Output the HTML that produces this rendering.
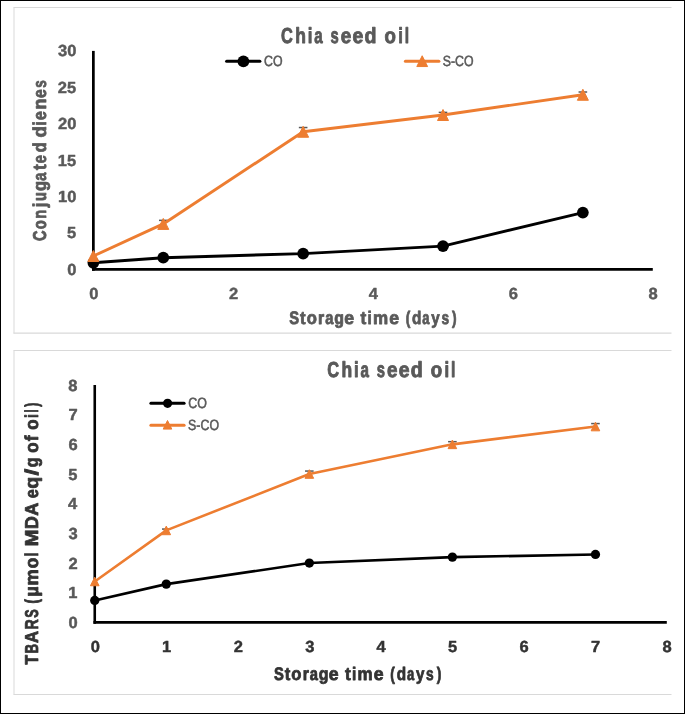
<!DOCTYPE html>
<html><head><meta charset="utf-8"><title>Chia seed oil charts</title>
<style>
html,body{margin:0;padding:0;background:#fff;}
svg{display:block;font-family:"Liberation Sans", sans-serif;will-change:transform;text-rendering:geometricPrecision;}
</style></head>
<body>
<svg width="685" height="714" viewBox="0 0 685 714">
<rect x="0.5" y="0.5" width="684" height="713" fill="#fff" stroke="#000" stroke-width="1"/>
<line x1="13.50" y1="7.50" x2="671.50" y2="7.50" stroke="#D9D9D9" stroke-width="1" stroke-linecap="butt"/>
<line x1="13.50" y1="333.10" x2="671.50" y2="333.10" stroke="#D9D9D9" stroke-width="1.2" stroke-linecap="butt"/>
<line x1="14.00" y1="7.50" x2="14.00" y2="333.50" stroke="#D9D9D9" stroke-width="1" stroke-linecap="butt"/>
<line x1="13.50" y1="350.50" x2="671.50" y2="350.50" stroke="#D9D9D9" stroke-width="1" stroke-linecap="butt"/>
<line x1="13.50" y1="694.50" x2="671.50" y2="694.50" stroke="#D9D9D9" stroke-width="1" stroke-linecap="butt"/>
<line x1="14.00" y1="350.50" x2="14.00" y2="694.50" stroke="#D9D9D9" stroke-width="1" stroke-linecap="butt"/>
<text y="43.00" font-size="21.7" font-weight="bold" fill="#595959" stroke="#595959" stroke-width="0.9" stroke-linejoin="round"><tspan x="281.02" textLength="11.84" lengthAdjust="spacingAndGlyphs">C</tspan><tspan x="295.19" textLength="10.68" lengthAdjust="spacingAndGlyphs">h</tspan><tspan x="307.63" textLength="4.66" lengthAdjust="spacingAndGlyphs">i</tspan><tspan x="314.22" textLength="8.42" lengthAdjust="spacingAndGlyphs">a</tspan> <tspan x="330.54" textLength="8.21" lengthAdjust="spacingAndGlyphs">s</tspan><tspan x="340.70" textLength="10.50" lengthAdjust="spacingAndGlyphs">e</tspan><tspan x="352.49" textLength="10.82" lengthAdjust="spacingAndGlyphs">e</tspan><tspan x="364.55" textLength="11.98" lengthAdjust="spacingAndGlyphs">d</tspan> <tspan x="384.61" textLength="11.38" lengthAdjust="spacingAndGlyphs">o</tspan><tspan x="398.33" textLength="4.66" lengthAdjust="spacingAndGlyphs">i</tspan><tspan x="404.68" textLength="4.35" lengthAdjust="spacingAndGlyphs">l</tspan></text>
<line x1="226.60" y1="61.30" x2="259.90" y2="61.30" stroke="#000" stroke-width="3" stroke-linecap="round"/>
<circle cx="243.40" cy="61.30" r="5.90" fill="#000"/>
<text transform="translate(263.97,65.70) scale(0.8342,1)" font-size="14.8" font-weight="normal" fill="#595959" stroke="#595959" stroke-width="0.55" stroke-linejoin="round">CO</text>
<line x1="405.40" y1="61.35" x2="438.90" y2="61.35" stroke="#ED7D31" stroke-width="3" stroke-linecap="round"/>
<path d="M422.20,55.75 L427.60,66.55 L416.80,66.55 Z" fill="#ED7D31" stroke="#ED7D31" stroke-width="1" stroke-linejoin="round"/>
<text transform="translate(442.81,65.80) scale(0.8319,1)" font-size="14.8" font-weight="normal" fill="#595959" stroke="#595959" stroke-width="0.55" stroke-linejoin="round">S-CO</text>
<text transform="translate(67.22,274.85) scale(1.0300,1)" font-size="16.0" font-weight="bold" fill="#595959" stroke="#595959" stroke-width="0.45" stroke-linejoin="round">0</text>
<text transform="translate(67.00,238.45) scale(1.0300,1)" font-size="16.0" font-weight="bold" fill="#595959" stroke="#595959" stroke-width="0.45" stroke-linejoin="round">5</text>
<text transform="translate(58.07,202.05) scale(1.0300,1)" font-size="16.0" font-weight="bold" fill="#595959" stroke="#595959" stroke-width="0.45" stroke-linejoin="round">10</text>
<text transform="translate(57.86,165.65) scale(1.0300,1)" font-size="16.0" font-weight="bold" fill="#595959" stroke="#595959" stroke-width="0.45" stroke-linejoin="round">15</text>
<text transform="translate(58.07,129.25) scale(1.0300,1)" font-size="16.0" font-weight="bold" fill="#595959" stroke="#595959" stroke-width="0.45" stroke-linejoin="round">20</text>
<text transform="translate(57.86,92.85) scale(1.0300,1)" font-size="16.0" font-weight="bold" fill="#595959" stroke="#595959" stroke-width="0.45" stroke-linejoin="round">25</text>
<text transform="translate(58.07,56.45) scale(1.0300,1)" font-size="16.0" font-weight="bold" fill="#595959" stroke="#595959" stroke-width="0.45" stroke-linejoin="round">30</text>
<text transform="translate(89.18,299.00) scale(1.0300,1)" font-size="16.0" font-weight="bold" fill="#595959" stroke="#595959" stroke-width="0.45" stroke-linejoin="round">0</text>
<text transform="translate(229.07,299.00) scale(1.0300,1)" font-size="16.0" font-weight="bold" fill="#595959" stroke="#595959" stroke-width="0.45" stroke-linejoin="round">2</text>
<text transform="translate(368.81,299.00) scale(1.0300,1)" font-size="16.0" font-weight="bold" fill="#595959" stroke="#595959" stroke-width="0.45" stroke-linejoin="round">4</text>
<text transform="translate(508.74,299.00) scale(1.0300,1)" font-size="16.0" font-weight="bold" fill="#595959" stroke="#595959" stroke-width="0.45" stroke-linejoin="round">6</text>
<text transform="translate(648.60,299.00) scale(1.0300,1)" font-size="16.0" font-weight="bold" fill="#595959" stroke="#595959" stroke-width="0.45" stroke-linejoin="round">8</text>
<text transform="translate(46.00,0) rotate(-90)" y="0" font-size="18.6" font-weight="bold" fill="#595959" stroke="#595959" stroke-width="0.8" stroke-linejoin="round"><tspan x="-241.04" textLength="10.57" lengthAdjust="spacingAndGlyphs">C</tspan><tspan x="-229.21" textLength="9.02" lengthAdjust="spacingAndGlyphs">o</tspan><tspan x="-218.70" textLength="8.94" lengthAdjust="spacingAndGlyphs">n</tspan><tspan x="-207.22" textLength="4.70" lengthAdjust="spacingAndGlyphs">j</tspan><tspan x="-200.94" textLength="8.83" lengthAdjust="spacingAndGlyphs">u</tspan><tspan x="-191.07" textLength="10.07" lengthAdjust="spacingAndGlyphs">g</tspan><tspan x="-180.66" textLength="8.20" lengthAdjust="spacingAndGlyphs">a</tspan><tspan x="-169.99" textLength="5.68" lengthAdjust="spacingAndGlyphs">t</tspan><tspan x="-163.31" textLength="8.14" lengthAdjust="spacingAndGlyphs">e</tspan><tspan x="-152.37" textLength="9.94" lengthAdjust="spacingAndGlyphs">d</tspan> <tspan x="-137.42" textLength="11.50" lengthAdjust="spacingAndGlyphs">d</tspan><tspan x="-125.50" textLength="4.32" lengthAdjust="spacingAndGlyphs">i</tspan><tspan x="-120.24" textLength="9.09" lengthAdjust="spacingAndGlyphs">e</tspan><tspan x="-109.54" textLength="10.92" lengthAdjust="spacingAndGlyphs">n</tspan><tspan x="-97.93" textLength="8.78" lengthAdjust="spacingAndGlyphs">e</tspan><tspan x="-87.83" textLength="7.44" lengthAdjust="spacingAndGlyphs">s</tspan></text>
<text y="324.00" font-size="18.2" font-weight="bold" fill="#595959" stroke="#595959" stroke-width="0.8" stroke-linejoin="round"><tspan x="289.35" textLength="9.85" lengthAdjust="spacingAndGlyphs">S</tspan><tspan x="300.11" textLength="5.57" lengthAdjust="spacingAndGlyphs">t</tspan><tspan x="306.67" textLength="10.17" lengthAdjust="spacingAndGlyphs">o</tspan><tspan x="318.05" textLength="6.19" lengthAdjust="spacingAndGlyphs">r</tspan><tspan x="325.24" textLength="8.19" lengthAdjust="spacingAndGlyphs">a</tspan><tspan x="334.25" textLength="9.72" lengthAdjust="spacingAndGlyphs">g</tspan><tspan x="344.15" textLength="9.82" lengthAdjust="spacingAndGlyphs">e</tspan> <tspan x="360.52" textLength="5.76" lengthAdjust="spacingAndGlyphs">t</tspan><tspan x="367.51" textLength="4.29" lengthAdjust="spacingAndGlyphs">i</tspan><tspan x="372.90" textLength="15.13" lengthAdjust="spacingAndGlyphs">m</tspan><tspan x="389.15" textLength="9.82" lengthAdjust="spacingAndGlyphs">e</tspan> <tspan x="405.67" textLength="4.59" lengthAdjust="spacingAndGlyphs">(</tspan><tspan x="412.06" textLength="9.37" lengthAdjust="spacingAndGlyphs">d</tspan><tspan x="422.35" textLength="7.23" lengthAdjust="spacingAndGlyphs">a</tspan><tspan x="431.36" textLength="8.43" lengthAdjust="spacingAndGlyphs">y</tspan><tspan x="441.47" textLength="7.64" lengthAdjust="spacingAndGlyphs">s</tspan><tspan x="452.04" textLength="4.59" lengthAdjust="spacingAndGlyphs">)</tspan></text>
<line x1="93.35" y1="50.90" x2="93.35" y2="270.75" stroke="#000" stroke-width="2.75" stroke-linecap="butt"/>
<line x1="92.00" y1="269.35" x2="652.80" y2="269.35" stroke="#000" stroke-width="2.8" stroke-linecap="butt"/>
<polyline points="93.35,262.80 163.28,257.70 303.14,253.63 443.00,246.13 582.86,212.57" fill="none" stroke="#000" stroke-width="2.9" stroke-linejoin="round" stroke-linecap="round"/>
<circle cx="93.35" cy="262.80" r="5.85" fill="#000"/>
<circle cx="163.28" cy="257.70" r="5.85" fill="#000"/>
<circle cx="303.14" cy="253.63" r="5.85" fill="#000"/>
<circle cx="443.00" cy="246.13" r="5.85" fill="#000"/>
<circle cx="582.86" cy="212.57" r="5.85" fill="#000"/>
<line x1="163.28" y1="220.36" x2="163.28" y2="227.49" stroke="#595959" stroke-width="1.5" stroke-linecap="butt"/>
<line x1="158.98" y1="220.36" x2="167.58" y2="220.36" stroke="#595959" stroke-width="1.5" stroke-linecap="butt"/>
<line x1="303.14" y1="127.54" x2="303.14" y2="135.98" stroke="#595959" stroke-width="1.5" stroke-linecap="butt"/>
<line x1="298.84" y1="127.54" x2="307.44" y2="127.54" stroke="#595959" stroke-width="1.5" stroke-linecap="butt"/>
<line x1="443.00" y1="112.39" x2="443.00" y2="117.63" stroke="#595959" stroke-width="1.5" stroke-linecap="butt"/>
<line x1="438.70" y1="112.39" x2="447.30" y2="112.39" stroke="#595959" stroke-width="1.5" stroke-linecap="butt"/>
<line x1="582.86" y1="92.01" x2="582.86" y2="97.54" stroke="#595959" stroke-width="1.5" stroke-linecap="butt"/>
<line x1="578.56" y1="92.01" x2="587.16" y2="92.01" stroke="#595959" stroke-width="1.5" stroke-linecap="butt"/>
<polyline points="93.35,256.03 163.28,223.92 303.14,131.76 443.00,115.01 582.86,94.78" fill="none" stroke="#ED7D31" stroke-width="2.9" stroke-linejoin="round" stroke-linecap="round"/>
<path d="M93.35,250.53 L98.85,261.53 L87.85,261.53 Z" fill="#ED7D31" stroke="#ED7D31" stroke-width="1" stroke-linejoin="round"/>
<path d="M163.28,218.42 L168.78,229.42 L157.78,229.42 Z" fill="#ED7D31" stroke="#ED7D31" stroke-width="1" stroke-linejoin="round"/>
<path d="M303.14,126.26 L308.64,137.26 L297.64,137.26 Z" fill="#ED7D31" stroke="#ED7D31" stroke-width="1" stroke-linejoin="round"/>
<path d="M443.00,109.51 L448.50,120.51 L437.50,120.51 Z" fill="#ED7D31" stroke="#ED7D31" stroke-width="1" stroke-linejoin="round"/>
<path d="M582.86,89.28 L588.36,100.28 L577.36,100.28 Z" fill="#ED7D31" stroke="#ED7D31" stroke-width="1" stroke-linejoin="round"/>
<text y="377.00" font-size="21.7" font-weight="bold" fill="#595959" stroke="#595959" stroke-width="0.9" stroke-linejoin="round"><tspan x="327.27" textLength="11.84" lengthAdjust="spacingAndGlyphs">C</tspan><tspan x="341.44" textLength="10.68" lengthAdjust="spacingAndGlyphs">h</tspan><tspan x="353.88" textLength="4.66" lengthAdjust="spacingAndGlyphs">i</tspan><tspan x="360.47" textLength="8.42" lengthAdjust="spacingAndGlyphs">a</tspan> <tspan x="376.79" textLength="8.21" lengthAdjust="spacingAndGlyphs">s</tspan><tspan x="386.95" textLength="10.50" lengthAdjust="spacingAndGlyphs">e</tspan><tspan x="398.74" textLength="10.82" lengthAdjust="spacingAndGlyphs">e</tspan><tspan x="410.80" textLength="11.98" lengthAdjust="spacingAndGlyphs">d</tspan> <tspan x="430.86" textLength="11.38" lengthAdjust="spacingAndGlyphs">o</tspan><tspan x="444.58" textLength="4.66" lengthAdjust="spacingAndGlyphs">i</tspan><tspan x="450.93" textLength="4.35" lengthAdjust="spacingAndGlyphs">l</tspan></text>
<line x1="150.90" y1="403.30" x2="184.10" y2="403.30" stroke="#000" stroke-width="3" stroke-linecap="round"/>
<circle cx="167.60" cy="403.30" r="4.60" fill="#000"/>
<text transform="translate(188.37,407.90) scale(0.8391,1)" font-size="14.8" font-weight="normal" fill="#595959" stroke="#595959" stroke-width="0.55" stroke-linejoin="round">CO</text>
<line x1="150.90" y1="425.30" x2="184.10" y2="425.30" stroke="#ED7D31" stroke-width="3" stroke-linecap="round"/>
<path d="M167.50,420.50 L171.80,429.10 L163.20,429.10 Z" fill="#ED7D31" stroke="#ED7D31" stroke-width="1" stroke-linejoin="round"/>
<text transform="translate(188.11,429.80) scale(0.8347,1)" font-size="14.8" font-weight="normal" fill="#595959" stroke="#595959" stroke-width="0.55" stroke-linejoin="round">S-CO</text>
<text transform="translate(68.52,627.90) scale(1.0300,1)" font-size="16.0" font-weight="bold" fill="#595959" stroke="#595959" stroke-width="0.45" stroke-linejoin="round">0</text>
<text transform="translate(68.30,598.23) scale(1.0300,1)" font-size="16.0" font-weight="bold" fill="#595959" stroke="#595959" stroke-width="0.45" stroke-linejoin="round">1</text>
<text transform="translate(68.50,568.55) scale(1.0300,1)" font-size="16.0" font-weight="bold" fill="#595959" stroke="#595959" stroke-width="0.45" stroke-linejoin="round">2</text>
<text transform="translate(68.44,538.88) scale(1.0300,1)" font-size="16.0" font-weight="bold" fill="#595959" stroke="#595959" stroke-width="0.45" stroke-linejoin="round">3</text>
<text transform="translate(67.92,509.20) scale(1.0300,1)" font-size="16.0" font-weight="bold" fill="#595959" stroke="#595959" stroke-width="0.45" stroke-linejoin="round">4</text>
<text transform="translate(68.30,479.52) scale(1.0300,1)" font-size="16.0" font-weight="bold" fill="#595959" stroke="#595959" stroke-width="0.45" stroke-linejoin="round">5</text>
<text transform="translate(68.43,449.85) scale(1.0300,1)" font-size="16.0" font-weight="bold" fill="#595959" stroke="#595959" stroke-width="0.45" stroke-linejoin="round">6</text>
<text transform="translate(68.56,420.17) scale(1.0300,1)" font-size="16.0" font-weight="bold" fill="#595959" stroke="#595959" stroke-width="0.45" stroke-linejoin="round">7</text>
<text transform="translate(68.35,390.50) scale(1.0300,1)" font-size="16.0" font-weight="bold" fill="#595959" stroke="#595959" stroke-width="0.45" stroke-linejoin="round">8</text>
<text transform="translate(90.73,651.50) scale(1.0300,1)" font-size="16.0" font-weight="bold" fill="#333333" stroke="#333333" stroke-width="0.45" stroke-linejoin="round">0</text>
<text transform="translate(161.89,651.50) scale(1.0300,1)" font-size="16.0" font-weight="bold" fill="#333333" stroke="#333333" stroke-width="0.45" stroke-linejoin="round">1</text>
<text transform="translate(233.68,651.50) scale(1.0300,1)" font-size="16.0" font-weight="bold" fill="#333333" stroke="#333333" stroke-width="0.45" stroke-linejoin="round">2</text>
<text transform="translate(305.19,651.50) scale(1.0300,1)" font-size="16.0" font-weight="bold" fill="#333333" stroke="#333333" stroke-width="0.45" stroke-linejoin="round">3</text>
<text transform="translate(376.48,651.50) scale(1.0300,1)" font-size="16.0" font-weight="bold" fill="#333333" stroke="#333333" stroke-width="0.45" stroke-linejoin="round">4</text>
<text transform="translate(447.98,651.50) scale(1.0300,1)" font-size="16.0" font-weight="bold" fill="#333333" stroke="#333333" stroke-width="0.45" stroke-linejoin="round">5</text>
<text transform="translate(519.47,651.50) scale(1.0300,1)" font-size="16.0" font-weight="bold" fill="#333333" stroke="#333333" stroke-width="0.45" stroke-linejoin="round">6</text>
<text transform="translate(590.94,651.50) scale(1.0300,1)" font-size="16.0" font-weight="bold" fill="#333333" stroke="#333333" stroke-width="0.45" stroke-linejoin="round">7</text>
<text transform="translate(662.39,651.50) scale(1.0300,1)" font-size="16.0" font-weight="bold" fill="#333333" stroke="#333333" stroke-width="0.45" stroke-linejoin="round">8</text>
<text transform="translate(38.10,0) rotate(-90)" y="0" font-size="18.6" font-weight="bold" fill="#333333" stroke="#333333" stroke-width="0.8" stroke-linejoin="round"><tspan x="-664.49" textLength="9.47" lengthAdjust="spacingAndGlyphs">T</tspan><tspan x="-653.33" textLength="9.29" lengthAdjust="spacingAndGlyphs">B</tspan><tspan x="-643.01" textLength="12.04" lengthAdjust="spacingAndGlyphs">A</tspan><tspan x="-629.60" textLength="10.34" lengthAdjust="spacingAndGlyphs">R</tspan><tspan x="-617.64" textLength="8.41" lengthAdjust="spacingAndGlyphs">S</tspan> <tspan x="-603.62" textLength="4.40" lengthAdjust="spacingAndGlyphs">(</tspan><tspan x="-596.66" textLength="10.62" lengthAdjust="spacingAndGlyphs">µ</tspan><tspan x="-585.46" textLength="16.14" lengthAdjust="spacingAndGlyphs">m</tspan><tspan x="-568.35" textLength="10.50" lengthAdjust="spacingAndGlyphs">o</tspan><tspan x="-556.55" textLength="4.01" lengthAdjust="spacingAndGlyphs">l</tspan> <tspan x="-546.58" textLength="17.06" lengthAdjust="spacingAndGlyphs">M</tspan><tspan x="-529.05" textLength="12.76" lengthAdjust="spacingAndGlyphs">D</tspan><tspan x="-515.71" textLength="12.44" lengthAdjust="spacingAndGlyphs">A</tspan> <tspan x="-498.13" textLength="8.99" lengthAdjust="spacingAndGlyphs">e</tspan><tspan x="-488.73" textLength="11.97" lengthAdjust="spacingAndGlyphs">q</tspan><tspan x="-475.41" textLength="6.72" lengthAdjust="spacingAndGlyphs">/</tspan><tspan x="-467.16" textLength="9.85" lengthAdjust="spacingAndGlyphs">g</tspan> <tspan x="-452.75" textLength="10.40" lengthAdjust="spacingAndGlyphs">o</tspan><tspan x="-441.17" textLength="5.81" lengthAdjust="spacingAndGlyphs">f</tspan> <tspan x="-429.65" textLength="10.40" lengthAdjust="spacingAndGlyphs">o</tspan><tspan x="-418.12" textLength="3.85" lengthAdjust="spacingAndGlyphs">i</tspan><tspan x="-412.49" textLength="3.10" lengthAdjust="spacingAndGlyphs">l</tspan><tspan x="-406.70" textLength="3.99" lengthAdjust="spacingAndGlyphs">)</tspan></text>
<text y="680.00" font-size="18.2" font-weight="bold" fill="#333333" stroke="#333333" stroke-width="0.8" stroke-linejoin="round"><tspan x="273.95" textLength="9.85" lengthAdjust="spacingAndGlyphs">S</tspan><tspan x="284.71" textLength="5.57" lengthAdjust="spacingAndGlyphs">t</tspan><tspan x="291.27" textLength="10.17" lengthAdjust="spacingAndGlyphs">o</tspan><tspan x="302.65" textLength="6.19" lengthAdjust="spacingAndGlyphs">r</tspan><tspan x="309.84" textLength="8.19" lengthAdjust="spacingAndGlyphs">a</tspan><tspan x="318.85" textLength="9.72" lengthAdjust="spacingAndGlyphs">g</tspan><tspan x="328.75" textLength="9.82" lengthAdjust="spacingAndGlyphs">e</tspan> <tspan x="345.12" textLength="5.76" lengthAdjust="spacingAndGlyphs">t</tspan><tspan x="352.11" textLength="4.29" lengthAdjust="spacingAndGlyphs">i</tspan><tspan x="357.50" textLength="15.13" lengthAdjust="spacingAndGlyphs">m</tspan><tspan x="373.75" textLength="9.82" lengthAdjust="spacingAndGlyphs">e</tspan> <tspan x="390.27" textLength="4.59" lengthAdjust="spacingAndGlyphs">(</tspan><tspan x="396.66" textLength="9.37" lengthAdjust="spacingAndGlyphs">d</tspan><tspan x="406.95" textLength="7.23" lengthAdjust="spacingAndGlyphs">a</tspan><tspan x="415.96" textLength="8.43" lengthAdjust="spacingAndGlyphs">y</tspan><tspan x="426.07" textLength="7.64" lengthAdjust="spacingAndGlyphs">s</tspan><tspan x="436.64" textLength="4.59" lengthAdjust="spacingAndGlyphs">)</tspan></text>
<line x1="94.75" y1="385.00" x2="94.75" y2="623.80" stroke="#000" stroke-width="2.6" stroke-linecap="butt"/>
<line x1="93.45" y1="622.40" x2="666.80" y2="622.40" stroke="#000" stroke-width="2.8" stroke-linecap="butt"/>
<polyline points="94.75,600.44 166.28,584.12 309.34,563.05 452.40,557.12 595.46,554.44" fill="none" stroke="#000" stroke-width="2.6" stroke-linejoin="round" stroke-linecap="round"/>
<circle cx="94.75" cy="600.44" r="4.65" fill="#000"/>
<circle cx="166.28" cy="584.12" r="4.65" fill="#000"/>
<circle cx="309.34" cy="563.05" r="4.65" fill="#000"/>
<circle cx="452.40" cy="557.12" r="4.65" fill="#000"/>
<circle cx="595.46" cy="554.44" r="4.65" fill="#000"/>
<line x1="166.28" y1="529.07" x2="166.28" y2="531.74" stroke="#595959" stroke-width="1.5" stroke-linecap="butt"/>
<line x1="161.98" y1="529.07" x2="170.58" y2="529.07" stroke="#595959" stroke-width="1.5" stroke-linecap="butt"/>
<line x1="309.34" y1="471.06" x2="309.34" y2="476.99" stroke="#595959" stroke-width="1.5" stroke-linecap="butt"/>
<line x1="305.04" y1="471.06" x2="313.64" y2="471.06" stroke="#595959" stroke-width="1.5" stroke-linecap="butt"/>
<line x1="452.40" y1="441.68" x2="452.40" y2="447.02" stroke="#595959" stroke-width="1.5" stroke-linecap="butt"/>
<line x1="448.10" y1="441.68" x2="456.70" y2="441.68" stroke="#595959" stroke-width="1.5" stroke-linecap="butt"/>
<line x1="595.46" y1="423.58" x2="595.46" y2="429.51" stroke="#595959" stroke-width="1.5" stroke-linecap="butt"/>
<line x1="591.16" y1="423.58" x2="599.76" y2="423.58" stroke="#595959" stroke-width="1.5" stroke-linecap="butt"/>
<polyline points="94.75,581.45 166.28,530.41 309.34,474.02 452.40,444.35 595.46,426.54" fill="none" stroke="#ED7D31" stroke-width="2.6" stroke-linejoin="round" stroke-linecap="round"/>
<path d="M94.75,577.15 L99.05,585.75 L90.45,585.75 Z" fill="#ED7D31" stroke="#ED7D31" stroke-width="1" stroke-linejoin="round"/>
<path d="M166.28,526.11 L170.58,534.71 L161.98,534.71 Z" fill="#ED7D31" stroke="#ED7D31" stroke-width="1" stroke-linejoin="round"/>
<path d="M309.34,469.72 L313.64,478.32 L305.04,478.32 Z" fill="#ED7D31" stroke="#ED7D31" stroke-width="1" stroke-linejoin="round"/>
<path d="M452.40,440.05 L456.70,448.65 L448.10,448.65 Z" fill="#ED7D31" stroke="#ED7D31" stroke-width="1" stroke-linejoin="round"/>
<path d="M595.46,422.24 L599.76,430.84 L591.16,430.84 Z" fill="#ED7D31" stroke="#ED7D31" stroke-width="1" stroke-linejoin="round"/>
</svg>
</body></html>
